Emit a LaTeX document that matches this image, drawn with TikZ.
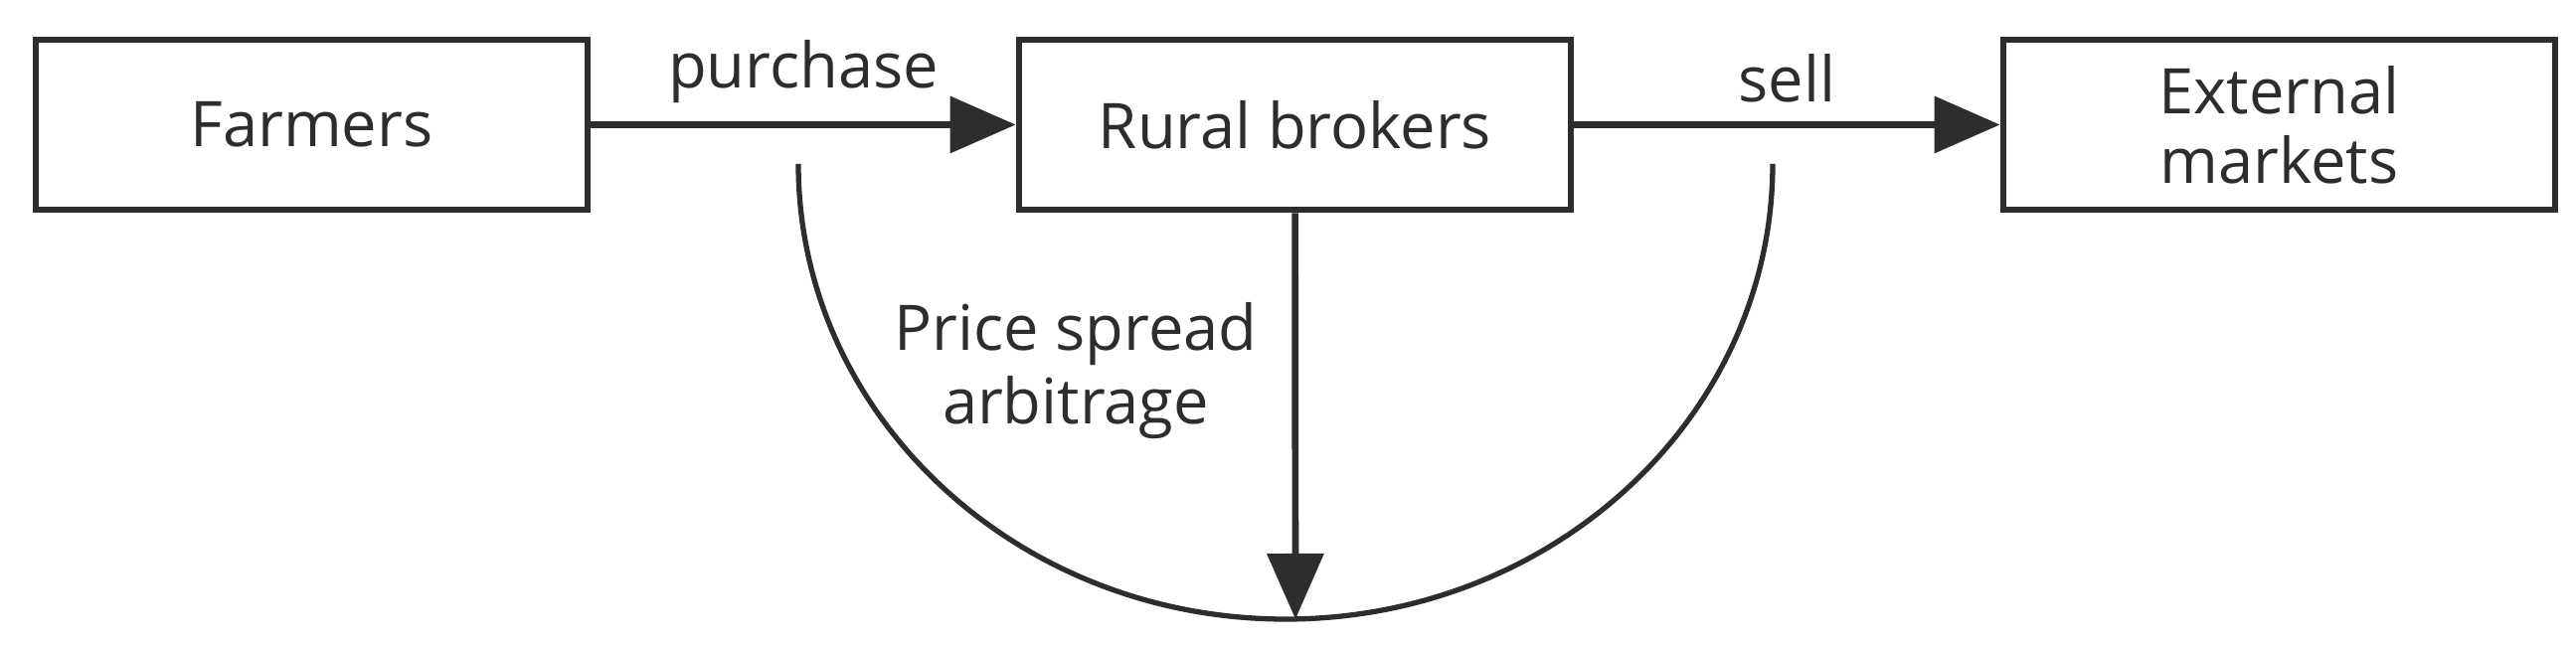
\documentclass[tikz,border=0pt]{standalone}
\usepackage{fontspec}
\setmainfont{Open Sans}
\usetikzlibrary{arrows.meta}
\definecolor{ink}{RGB}{45,45,45}
\tikzset{
  box/.style={draw,line width=1.9pt,minimum width=5.55cm,minimum height=1.71cm,align=center,font=\fontsize{18}{22}\selectfont},
  lab/.style={font=\fontsize{18}{22}\selectfont,align=center},
  flow/.style={line width=1.9pt,-{Triangle[length=6.6mm,width=5.6mm]}}
}
\begin{document}
\begin{tikzpicture}[color=ink]
\useasboundingbox (0,0) rectangle (25.91,6.5);
%%%% boxes
\node[box] (farmers) at (3.135,5.245) {Farmers};
\node[box] (brokers) at (13.025,5.245) {Rural brokers};
\node[box] (markets) at (22.925,5.245) {External\\[-2pt]markets};
%%%% flows
\draw[flow] (farmers) -- (brokers) node[lab,midway,above=2pt]{purchase};
\draw[flow] (brokers) -- (markets) node[lab,midway,above=2pt]{sell};
%
\coordinate (A) at (8.03,4.85);
\coordinate (B) at (13.03,0.27);
\draw[line width=1.5pt] (A) arc[start angle=180,end angle=360,x radius=4.9,y radius=4.58];
\draw[flow] (brokers) -- (B);
\node[lab] (spread) at (10.82,2.77) {Price spread\\[-1pt]arbitrage};
\end{tikzpicture}
\end{document}
